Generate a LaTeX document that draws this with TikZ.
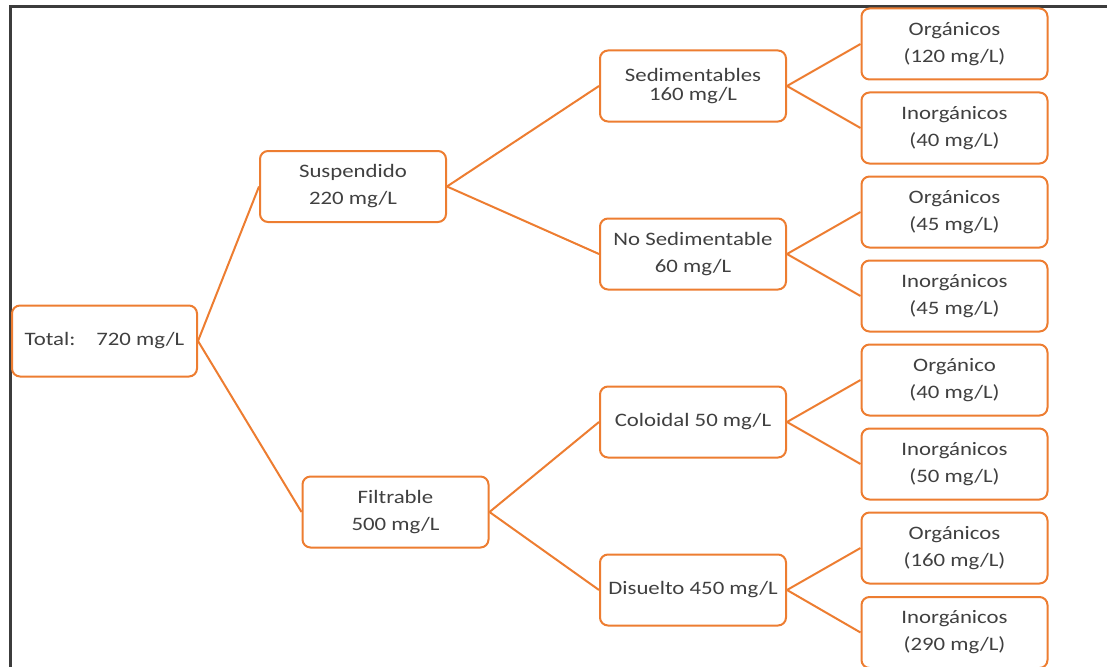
\documentclass[tikz,border=0pt]{standalone}
\usepackage{fontspec}
\setmainfont{Carlito}[FakeStretch=1.2]
\definecolor{boxline}{RGB}{237,125,49}
\definecolor{txt}{RGB}{64,64,64}
\definecolor{framegray}{RGB}{60,60,60}
\tikzset{
  box/.style={draw=boxline, line width=2pt, rounded corners=8pt, fill=white,
    minimum width=186pt, minimum height=71pt, inner sep=0pt,
    align=center, text=txt, font=\fontsize{19}{27}\selectfont},
  tight/.style={font=\fontsize{19}{19.5}\selectfont},
  link/.style={draw=boxline, line width=2pt},
  frameline/.style={draw=framegray, line width=3pt}
}
\begin{document}
\begin{tikzpicture}[x=1pt, y=-1pt]
\useasboundingbox (0,0) rectangle (1107,666);
% outer frame (top and left edges only)
\draw[frameline] (10,668) -- (10,7) -- (1109,7);

% root
\node[box, minimum width=185pt] (total) at (104.5,341) {Total:\hspace{21pt}720 mg/L};

% first level
\node[box] (susp) at (353,186.5) {Suspendido\\220 mg/L};
\node[box] (filt) at (395.5,512) {Filtrable\\500 mg/L};

% second level
\node[box, tight] (sed) at (693,86) {Sedimentables\\160 mg/L};
\node[box] (nosed) at (693,254) {No Sedimentable\\60 mg/L};
\node[box] (col) at (693,422) {Coloidal 50 mg/L};
\node[box] (dis) at (693,590) {Disuelto 450 mg/L};

% leaves
\node[box] (o1) at (954.5,44) {Orgánicos\\(120 mg/L)};
\node[box] (i1) at (954.5,128) {Inorgánicos\\(40 mg/L)};
\node[box] (o2) at (954.5,212) {Orgánicos\\(45 mg/L)};
\node[box] (i2) at (954.5,296) {Inorgánicos\\(45 mg/L)};
\node[box] (o3) at (954.5,380) {Orgánico\\(40 mg/L)};
\node[box] (i3) at (954.5,464) {Inorgánicos\\(50 mg/L)};
\node[box] (o4) at (954.5,548) {Orgánicos\\(160 mg/L)};
\node[box] (i4) at (954.5,632.5) {Inorgánicos\\(290 mg/L)};

% connectors
\draw[link] (total.east) -- (susp.west);
\draw[link] (total.east) -- (filt.west);
\draw[link] (susp.east) -- (sed.west);
\draw[link] (susp.east) -- (nosed.west);
\draw[link] (filt.east) -- (col.west);
\draw[link] (filt.east) -- (dis.west);
\draw[link] (sed.east) -- (o1.west);
\draw[link] (sed.east) -- (i1.west);
\draw[link] (nosed.east) -- (o2.west);
\draw[link] (nosed.east) -- (i2.west);
\draw[link] (col.east) -- (o3.west);
\draw[link] (col.east) -- (i3.west);
\draw[link] (dis.east) -- (o4.west);
\draw[link] (dis.east) -- (i4.west);
\end{tikzpicture}
\end{document}
